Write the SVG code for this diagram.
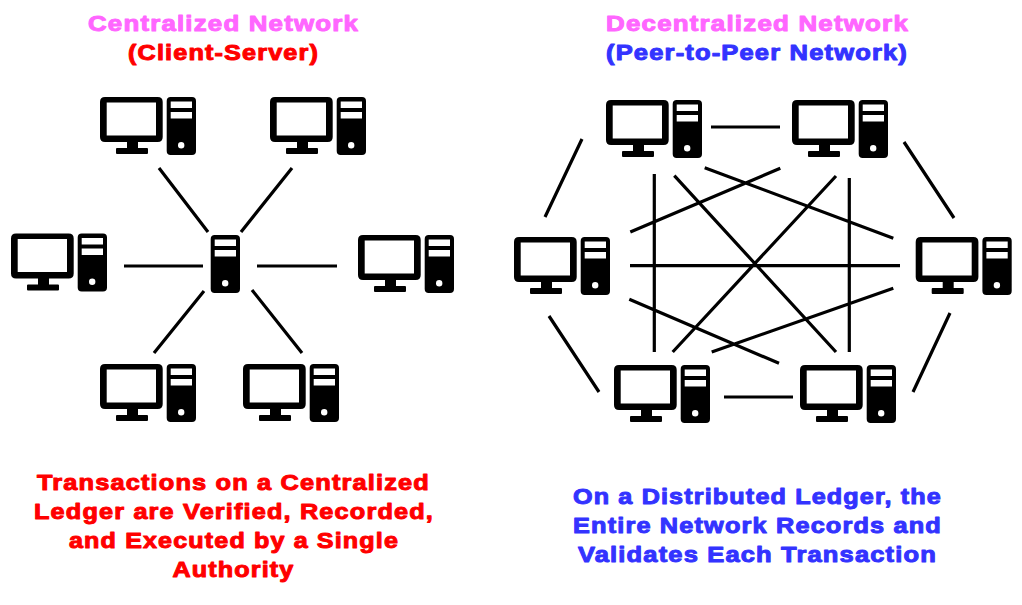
<svg xmlns="http://www.w3.org/2000/svg" width="1022" height="605" viewBox="0 0 1022 605">
<style>
.c{stroke:#000;stroke-width:3.200;fill:none;stroke-linecap:butt}
text{font-family:"Liberation Sans",Arial,sans-serif;font-weight:bold;font-size:22px;letter-spacing:1px;stroke-width:1px;stroke-linejoin:round}
.p{fill:#ff66ff;stroke:#ff66ff}.r{fill:#ff0000;stroke:#ff0000}.b{fill:#3333ff;stroke:#3333ff}
</style>
<defs>
<g id="tower"><path fill-rule="evenodd" fill="#000" d="M4 0H25.300Q29.300 0 29.300 4V54Q29.300 58 25.300 58H4Q0 58 0 54V4Q0 0 4 0ZM4 4.500V11H25.300V4.500ZM4 15V21.500H25.300V15ZM14.500 45A3.200 3.200 0 1 0 14.501 51.400A3.200 3.200 0 1 0 14.500 45Z"/></g>
<g id="pc"><path fill-rule="evenodd" fill="#000" d="M5 0H57.700Q62.700 0 62.700 5V40Q62.700 45 57.700 45H38V51H47Q48 51 48 52V56Q48 57 47 57H17Q16 57 16 56V52Q16 51 17 51H27V45H5Q0 45 0 40V5Q0 0 5 0ZM6.700 5.500V38.500H56V5.500Z"/><use href="#tower" x="66.700"/></g>
</defs>
<rect width="1022" height="605" fill="#fff"/>
<g id="connectors" class="c">
<path d="M159 168L208 232M292 168L241 232M124 266H203M257 266H337M204 291L154 353M252 290L302 353"/>
<path d="M711 127H780M582 139L545 217M904 142L954 218M549 316L599 392M950 313L913 392M724 397H793"/>
<path d="M654.300 174V352M849.300 178V352M630 265.700H900M630.300 232L780.300 168.300M704.700 167.700L893.300 238.300M674.300 175.700L836 352M836 176L672.700 352M629.300 299.300L779 363.300M893.300 288.300L711.700 352"/>
</g>
<g id="pc-left-1"><use href="#pc" x="100" y="97"/></g>
<g id="pc-left-2"><use href="#pc" x="270" y="97"/></g>
<g id="pc-left-3"><use href="#pc" x="11" y="233.500"/></g>
<g id="pc-left-4"><use href="#pc" x="358" y="235"/></g>
<g id="pc-left-5"><use href="#pc" x="100" y="364"/></g>
<g id="pc-left-6"><use href="#pc" x="243" y="364"/></g>
<g id="server"><use href="#tower" x="210.700" y="235"/></g>
<g id="pc-right-1"><use href="#pc" x="606" y="100"/></g>
<g id="pc-right-2"><use href="#pc" x="792" y="100"/></g>
<g id="pc-right-3"><use href="#pc" x="514" y="237"/></g>
<g id="pc-right-4"><use href="#pc" x="915.700" y="237"/></g>
<g id="pc-right-5"><use href="#pc" x="614" y="365"/></g>
<g id="pc-right-6"><use href="#pc" x="800" y="365"/></g>
<g id="titles">
<text class="p" x="88" y="31" textLength="271" lengthAdjust="spacingAndGlyphs">Centralized Network</text>
<text class="r" x="128" y="60" textLength="191" lengthAdjust="spacingAndGlyphs">(Client-Server)</text>
<text class="p" x="606" y="31" textLength="303" lengthAdjust="spacingAndGlyphs">Decentralized Network</text>
<text class="b" x="606" y="60" textLength="302" lengthAdjust="spacingAndGlyphs">(Peer-to-Peer Network)</text>
</g>
<g id="captions">
<text class="r" x="37" y="489.500" textLength="393" lengthAdjust="spacingAndGlyphs">Transactions on a Centralized</text>
<text class="r" x="34" y="518.500" textLength="400" lengthAdjust="spacingAndGlyphs">Ledger are Verified, Recorded,</text>
<text class="r" x="69" y="547.500" textLength="330" lengthAdjust="spacingAndGlyphs">and Executed by a Single</text>
<text class="r" x="172.500" y="576.500" textLength="122" lengthAdjust="spacingAndGlyphs">Authority</text>
<text class="b" x="573" y="503.500" textLength="369" lengthAdjust="spacingAndGlyphs">On a Distributed Ledger, the</text>
<text class="b" x="573" y="532.500" textLength="369" lengthAdjust="spacingAndGlyphs">Entire Network Records and</text>
<text class="b" x="578" y="561.500" textLength="359" lengthAdjust="spacingAndGlyphs">Validates Each Transaction</text>
</g>
</svg>
